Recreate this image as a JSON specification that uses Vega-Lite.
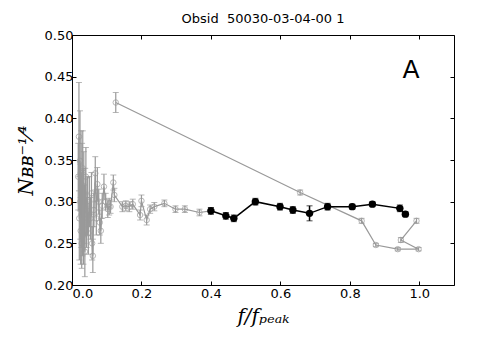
{
  "$schema": "https://vega.github.io/schema/vega-lite/v6.json",
  "width": 382,
  "height": 250,
  "autosize": "none",
  "padding": {"left": 72, "top": 35, "right": 24, "bottom": 73},
  "background": "white",
  "title": {"text": "Obsid\u00a0 50030-03-04-00 1", "font": "DejaVu Sans", "fontSize": 13, "fontWeight": "normal", "color": "black", "offset": 3},
  "config": {
    "view": {"stroke": "black", "strokeWidth": 1},
    "axis": {"grid": false, "domain": false, "tickColor": "black", "tickSize": -4, "labelFont": "DejaVu Sans", "labelFontSize": 13, "labelColor": "black", "titleColor": "black"}
  },
  "datasets": {
    "gray": [
      {"seg": 1, "ord": 1, "x": 0.018, "y": 0.330, "err": 0.040},
      {"seg": 1, "ord": 2, "x": 0.020, "y": 0.378, "err": 0.065},
      {"seg": 1, "ord": 3, "x": 0.021, "y": 0.280, "err": 0.050},
      {"seg": 1, "ord": 4, "x": 0.023, "y": 0.349, "err": 0.060},
      {"seg": 1, "ord": 5, "x": 0.024, "y": 0.300, "err": 0.045},
      {"seg": 1, "ord": 6, "x": 0.025, "y": 0.265, "err": 0.040},
      {"seg": 1, "ord": 7, "x": 0.026, "y": 0.335, "err": 0.050},
      {"seg": 1, "ord": 8, "x": 0.027, "y": 0.290, "err": 0.045},
      {"seg": 1, "ord": 9, "x": 0.028, "y": 0.250, "err": 0.030},
      {"seg": 1, "ord": 10, "x": 0.029, "y": 0.320, "err": 0.050},
      {"seg": 1, "ord": 11, "x": 0.030, "y": 0.275, "err": 0.040},
      {"seg": 1, "ord": 12, "x": 0.031, "y": 0.340, "err": 0.045},
      {"seg": 1, "ord": 13, "x": 0.032, "y": 0.300, "err": 0.040},
      {"seg": 1, "ord": 14, "x": 0.033, "y": 0.260, "err": 0.035},
      {"seg": 1, "ord": 15, "x": 0.034, "y": 0.310, "err": 0.050},
      {"seg": 1, "ord": 16, "x": 0.036, "y": 0.285, "err": 0.035},
      {"seg": 1, "ord": 17, "x": 0.037, "y": 0.240, "err": 0.030},
      {"seg": 1, "ord": 18, "x": 0.038, "y": 0.300, "err": 0.040},
      {"seg": 1, "ord": 19, "x": 0.040, "y": 0.330, "err": 0.035},
      {"seg": 1, "ord": 20, "x": 0.042, "y": 0.275, "err": 0.030},
      {"seg": 1, "ord": 21, "x": 0.045, "y": 0.295, "err": 0.035},
      {"seg": 1, "ord": 22, "x": 0.047, "y": 0.262, "err": 0.025},
      {"seg": 1, "ord": 23, "x": 0.050, "y": 0.300, "err": 0.030},
      {"seg": 1, "ord": 24, "x": 0.053, "y": 0.280, "err": 0.025},
      {"seg": 1, "ord": 25, "x": 0.056, "y": 0.310, "err": 0.025},
      {"seg": 1, "ord": 26, "x": 0.058, "y": 0.250, "err": 0.020},
      {"seg": 1, "ord": 27, "x": 0.060, "y": 0.235, "err": 0.020},
      {"seg": 1, "ord": 28, "x": 0.063, "y": 0.290, "err": 0.020},
      {"seg": 1, "ord": 29, "x": 0.067, "y": 0.334, "err": 0.020},
      {"seg": 1, "ord": 30, "x": 0.070, "y": 0.280, "err": 0.020},
      {"seg": 1, "ord": 31, "x": 0.073, "y": 0.321, "err": 0.020},
      {"seg": 1, "ord": 32, "x": 0.077, "y": 0.300, "err": 0.015},
      {"seg": 1, "ord": 33, "x": 0.080, "y": 0.275, "err": 0.015},
      {"seg": 1, "ord": 34, "x": 0.083, "y": 0.265, "err": 0.015},
      {"seg": 1, "ord": 35, "x": 0.087, "y": 0.295, "err": 0.015},
      {"seg": 1, "ord": 36, "x": 0.092, "y": 0.318, "err": 0.015},
      {"seg": 1, "ord": 37, "x": 0.097, "y": 0.300, "err": 0.010},
      {"seg": 1, "ord": 38, "x": 0.103, "y": 0.291, "err": 0.010},
      {"seg": 1, "ord": 39, "x": 0.107, "y": 0.294, "err": 0.010},
      {"seg": 1, "ord": 40, "x": 0.111, "y": 0.294, "err": 0.008},
      {"seg": 1, "ord": 41, "x": 0.119, "y": 0.323, "err": 0.009},
      {"seg": 1, "ord": 42, "x": 0.122, "y": 0.308, "err": 0.008},
      {"seg": 1, "ord": 43, "x": 0.145, "y": 0.294, "err": 0.006},
      {"seg": 1, "ord": 44, "x": 0.155, "y": 0.295, "err": 0.006},
      {"seg": 1, "ord": 45, "x": 0.165, "y": 0.294, "err": 0.006},
      {"seg": 1, "ord": 46, "x": 0.175, "y": 0.297, "err": 0.006},
      {"seg": 1, "ord": 47, "x": 0.196, "y": 0.284, "err": 0.006},
      {"seg": 1, "ord": 48, "x": 0.200, "y": 0.301, "err": 0.007},
      {"seg": 1, "ord": 49, "x": 0.215, "y": 0.278, "err": 0.006},
      {"seg": 1, "ord": 50, "x": 0.225, "y": 0.291, "err": 0.005},
      {"seg": 1, "ord": 51, "x": 0.237, "y": 0.294, "err": 0.005},
      {"seg": 1, "ord": 52, "x": 0.266, "y": 0.298, "err": 0.004},
      {"seg": 1, "ord": 53, "x": 0.298, "y": 0.291, "err": 0.004},
      {"seg": 1, "ord": 54, "x": 0.325, "y": 0.291, "err": 0.004},
      {"seg": 1, "ord": 55, "x": 0.367, "y": 0.287, "err": 0.004},
      {"seg": 1, "ord": 56, "x": 0.400, "y": 0.289, "err": 0.004},
      {"seg": 2, "ord": 1, "x": 0.126, "y": 0.419, "err": 0.012},
      {"seg": 2, "ord": 2, "x": 0.657, "y": 0.311, "err": 0.003},
      {"seg": 2, "ord": 3, "x": 0.834, "y": 0.277, "err": 0.003},
      {"seg": 2, "ord": 4, "x": 0.875, "y": 0.248, "err": 0.002},
      {"seg": 2, "ord": 5, "x": 0.938, "y": 0.243, "err": 0.002},
      {"seg": 2, "ord": 6, "x": 0.998, "y": 0.243, "err": 0.002},
      {"seg": 2, "ord": 7, "x": 0.947, "y": 0.254, "err": 0.003},
      {"seg": 2, "ord": 8, "x": 0.992, "y": 0.277, "err": 0.003}
    ],
    "black": [
      {"x": 0.400, "y": 0.289, "err": 0.004},
      {"x": 0.443, "y": 0.283, "err": 0.004},
      {"x": 0.466, "y": 0.280, "err": 0.004},
      {"x": 0.528, "y": 0.300, "err": 0.004},
      {"x": 0.599, "y": 0.294, "err": 0.004},
      {"x": 0.636, "y": 0.290, "err": 0.004},
      {"x": 0.684, "y": 0.286, "err": 0.009},
      {"x": 0.736, "y": 0.294, "err": 0.004},
      {"x": 0.807, "y": 0.294, "err": 0.003},
      {"x": 0.865, "y": 0.297, "err": 0.003},
      {"x": 0.944, "y": 0.292, "err": 0.004},
      {"x": 0.960, "y": 0.285, "err": 0.003}
    ],
    "label": [{"x": 0.976, "y": 0.458, "t": "A"}]
  },
  "resolve": {"axis": {"x": "independent", "y": "independent"}},
  "layer": [
    {
      "data": {"name": "gray"},
      "mark": {"type": "line", "color": "#999999", "strokeWidth": 1.2},
      "encoding": {
        "x": {"field": "x", "type": "quantitative", "scale": {"domain": [0, 1.1], "nice": false, "zero": false},
              "axis": {"orient": "bottom", "values": [0, 0.2, 0.4, 0.6, 0.8, 1.0], "format": ".1f", "labelPadding": 6, "title": "f/fₚₑₐₖ", "titleFont": "DejaVu Serif", "titleFontStyle": "italic", "titleFontWeight": "normal", "titleFontSize": 20, "titlePadding": 6}},
        "y": {"field": "y", "type": "quantitative", "scale": {"domain": [0.2, 0.5], "nice": false, "zero": false},
              "axis": {"orient": "left", "values": [0.2, 0.25, 0.3, 0.35, 0.4, 0.45, 0.5], "format": ".2f", "labelPadding": 3, "title": "Nʙʙ⁻¹⁄⁴", "titleFont": "DejaVu Serif", "titleFontStyle": "italic", "titleFontWeight": "normal", "titleFontSize": 20, "titlePadding": 8}},
        "detail": {"field": "seg", "type": "nominal"},
        "order": {"field": "ord", "type": "quantitative"}
      }
    },
    {
      "data": {"name": "gray"},
      "mark": {"type": "errorbar", "color": "#999999", "ticks": {"size": 6, "color": "#999999"}, "rule": {"strokeWidth": 1.2}},
      "encoding": {
        "x": {"field": "x", "type": "quantitative", "axis": null},
        "y": {"field": "y", "type": "quantitative", "axis": null},
        "yError": {"field": "err"}
      }
    },
    {
      "data": {"name": "gray"},
      "mark": {"type": "point", "shape": "circle", "filled": false, "color": "#999999", "size": 30, "strokeWidth": 1},
      "encoding": {
        "x": {"field": "x", "type": "quantitative", "axis": null},
        "y": {"field": "y", "type": "quantitative", "axis": null}
      }
    },
    {
      "data": {"name": "black"},
      "mark": {"type": "line", "color": "black", "strokeWidth": 1.5},
      "encoding": {
        "x": {"field": "x", "type": "quantitative", "axis": null},
        "y": {"field": "y", "type": "quantitative", "axis": null}
      }
    },
    {
      "data": {"name": "black"},
      "mark": {"type": "errorbar", "color": "black", "ticks": {"size": 6, "color": "black"}, "rule": {"strokeWidth": 1.5}},
      "encoding": {
        "x": {"field": "x", "type": "quantitative", "axis": null},
        "y": {"field": "y", "type": "quantitative", "axis": null},
        "yError": {"field": "err"}
      }
    },
    {
      "data": {"name": "black"},
      "mark": {"type": "point", "shape": "circle", "filled": true, "color": "black", "size": 55, "opacity": 1},
      "encoding": {
        "x": {"field": "x", "type": "quantitative", "axis": null},
        "y": {"field": "y", "type": "quantitative", "axis": null}
      }
    },
    {
      "data": {"name": "label"},
      "mark": {"type": "text", "font": "DejaVu Sans", "fontSize": 25, "color": "black", "align": "center", "baseline": "middle"},
      "encoding": {
        "x": {"field": "x", "type": "quantitative", "axis": {"orient": "top", "values": [0, 0.2, 0.4, 0.6, 0.8, 1.0], "labels": false, "title": null, "domain": false}},
        "y": {"field": "y", "type": "quantitative", "axis": {"orient": "right", "values": [0.2, 0.25, 0.3, 0.35, 0.4, 0.45, 0.5], "labels": false, "title": null, "domain": false}},
        "text": {"field": "t"}
      }
    }
  ]
}
